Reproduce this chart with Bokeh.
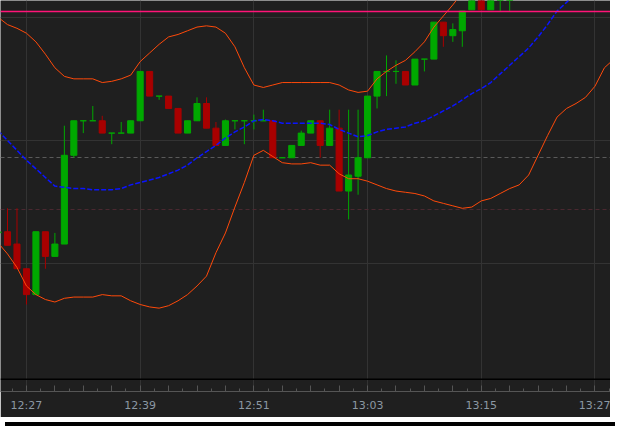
from bokeh.plotting import figure
from bokeh.models import (Range1d, FixedTicker, SingleIntervalTicker, Grid, Span,
                          CustomJSTickFormatter, Div, ColumnDataSource)
from bokeh.layouts import column
from bokeh.embed import file_html
from bokeh.resources import INLINE


def to_min(s):
    h, m = s.split(":")
    return int(h) * 60 + int(m)


def times_from(start, n):
    t0 = to_min(start)
    return ["%02d:%02d" % divmod(t0 + i, 60) for i in range(n)]


# ---------------- data (1-minute candles, EUR/USD-like quotes) ----------------
candle_times = times_from("12:24", 55)
opens = [1.30525, 1.30526, 1.30516, 1.30496, 1.30475, 1.30526, 1.30506, 1.30516, 1.30588, 1.30616,
         1.30616, 1.30616, 1.30606, 1.30606, 1.30606, 1.30616, 1.30656, 1.30636, 1.30636, 1.30626,
         1.30606, 1.30616, 1.30630, 1.30610, 1.30596, 1.30616, 1.30616, 1.30616, 1.30616, 1.30616,
         1.30586, 1.30586, 1.30596, 1.30606, 1.30616, 1.30596, 1.30610, 1.30559, 1.30571, 1.30586,
         1.30636, 1.30656, 1.30656, 1.30656, 1.30645, 1.30666, 1.30666, 1.30696, 1.30685, 1.30689,
         1.30706, 1.30728, 1.30706, 1.30722, 1.30724]
highs = [1.30526, 1.30545, 1.30545, 1.30496, 1.30526, 1.30526, 1.30525, 1.30612, 1.30616, 1.30616,
         1.30628, 1.30620, 1.30606, 1.30615, 1.30616, 1.30656, 1.30656, 1.30636, 1.30636, 1.30626,
         1.30616, 1.30635, 1.30635, 1.30615, 1.30617, 1.30616, 1.30616, 1.30621, 1.30625, 1.30616,
         1.30586, 1.30596, 1.30608, 1.30616, 1.30616, 1.30625, 1.30625, 1.30625, 1.30625, 1.30636,
         1.30656, 1.30669, 1.30665, 1.30656, 1.30666, 1.30666, 1.30696, 1.30696, 1.30695, 1.30705,
         1.30735, 1.30733, 1.30728, 1.30738, 1.30745]
lows = [1.30525, 1.30515, 1.30496, 1.30467, 1.30475, 1.30496, 1.30506, 1.30516, 1.30586, 1.30606,
        1.30616, 1.30606, 1.30597, 1.30606, 1.30606, 1.30616, 1.30636, 1.30633, 1.30626, 1.30606,
        1.30606, 1.30616, 1.30610, 1.30596, 1.30596, 1.30609, 1.30597, 1.30609, 1.30616, 1.30586,
        1.30586, 1.30586, 1.30596, 1.30606, 1.30586, 1.30596, 1.30559, 1.30536, 1.30556, 1.30586,
        1.30626, 1.30636, 1.30646, 1.30645, 1.30645, 1.30656, 1.30666, 1.30676, 1.30680, 1.30676,
        1.30706, 1.30706, 1.30706, 1.30705, 1.30705]
closes = [1.30526, 1.30515, 1.30496, 1.30475, 1.30526, 1.30506, 1.30516, 1.30588, 1.30616, 1.30616,
          1.30616, 1.30606, 1.30606, 1.30606, 1.30616, 1.30656, 1.30636, 1.30636, 1.30626, 1.30606,
          1.30616, 1.30630, 1.30610, 1.30596, 1.30616, 1.30616, 1.30616, 1.30616, 1.30616, 1.30586,
          1.30586, 1.30596, 1.30606, 1.30616, 1.30596, 1.30610, 1.30559, 1.30572, 1.30586, 1.30636,
          1.30656, 1.30656, 1.30656, 1.30645, 1.30666, 1.30666, 1.30696, 1.30685, 1.30690, 1.30705,
          1.30730, 1.30706, 1.30725, 1.30735, 1.30740]

upper_band = [1.30700, 1.30694, 1.30691, 1.30687, 1.30680, 1.30670, 1.30659, 1.30652, 1.30650, 1.30650,
              1.30650, 1.30647, 1.30648, 1.30650, 1.30653, 1.30664, 1.30671, 1.30678, 1.30684, 1.30686,
              1.30689, 1.30692, 1.30693, 1.30692, 1.30687, 1.30676, 1.30659, 1.30645, 1.30643, 1.30645,
              1.30647, 1.30647, 1.30647, 1.30647, 1.30647, 1.30647, 1.30645, 1.30641, 1.30639, 1.30640,
              1.30650, 1.30656, 1.30661, 1.30665, 1.30672, 1.30680, 1.30692, 1.30701, 1.30710, 1.30720,
              1.30730]
upper_times = times_from("12:24", len(upper_band))

lower_band = [1.30517, 1.30508, 1.30497, 1.30482, 1.30475, 1.30471, 1.30469, 1.30472, 1.30473, 1.30473,
              1.30473, 1.30475, 1.30474, 1.30474, 1.30470, 1.30467, 1.30465, 1.30464, 1.30466, 1.30470,
              1.30475, 1.30482, 1.30490, 1.30509, 1.30525, 1.30546, 1.30566, 1.30588, 1.30592, 1.30587,
              1.30582, 1.30581, 1.30581, 1.30582, 1.30580, 1.30580, 1.30573, 1.30569, 1.30569, 1.30567,
              1.30564, 1.30561, 1.30559, 1.30558, 1.30557, 1.30555, 1.30551, 1.30549, 1.30547, 1.30545,
              1.30546, 1.30551, 1.30553, 1.30557, 1.30561, 1.30564, 1.30572, 1.30588, 1.30604, 1.30619,
              1.30626, 1.30630, 1.30635, 1.30644, 1.30659, 1.30666]
lower_times = times_from("12:24", len(lower_band))

moving_avg = [1.30608, 1.30600, 1.30592, 1.30584, 1.30577, 1.30570, 1.30563, 1.30562, 1.30561, 1.30561,
              1.30560, 1.30560, 1.30560, 1.30561, 1.30564, 1.30566, 1.30568, 1.30570, 1.30573, 1.30576,
              1.30580, 1.30586, 1.30591, 1.30596, 1.30602, 1.30607, 1.30611, 1.30616, 1.30617, 1.30616,
              1.30614, 1.30614, 1.30614, 1.30614, 1.30614, 1.30613, 1.30609, 1.30606, 1.30603, 1.30604,
              1.30607, 1.30609, 1.30610, 1.30611, 1.30614, 1.30616, 1.30620, 1.30624, 1.30628, 1.30633,
              1.30638, 1.30642, 1.30647, 1.30654, 1.30661, 1.30668, 1.30675, 1.30684, 1.30694, 1.30705,
              1.30712, 1.30720]
ma_times = times_from("12:24", len(moving_avg))

resistance_level = [1.30705]   # magenta line
pivot_level = [1.30586]        # grey dashed
support_level = [1.30544]      # dark red dashed

grid_prices = [1.3050, 1.3060, 1.3070]
tick_labels = ["12:27", "12:39", "12:51", "13:03", "13:15", "13:27"]

# ---------------- styling ----------------
BG = "#1f1f1f"
GRID = "#333333"
UP = "#00a800"
DOWN = "#a80000"
BAND = "#ff4a0a"
MA = "#0a14ff"

x_lo, x_hi = 744.26, 808.64
y_lo, y_hi = 1.3039641, 1.3071355

p = figure(width=610, height=417, x_range=Range1d(x_lo, x_hi), y_range=Range1d(y_lo, y_hi),
           output_backend="svg", toolbar_location=None, y_axis_location=None,
           background_fill_color=BG, border_fill_color=BG, outline_line_color=None,
           min_border_left=0, min_border_right=0, min_border_top=0, min_border_bottom=26)

# drop the default horizontal grid, then add our own at round prices
p.ygrid.grid_line_color = None
p.ygrid.visible = False
tick_mins = [to_min(t) for t in tick_labels]
p.xgrid.ticker = FixedTicker(ticks=tick_mins)
p.xgrid.grid_line_color = GRID
p.add_layout(Grid(dimension=1, ticker=FixedTicker(ticks=grid_prices), grid_line_color=GRID))

ax = p.xaxis[0]
ax.ticker = SingleIntervalTicker(interval=3, num_minor_ticks=2)
ax.formatter = CustomJSTickFormatter(args=dict(mins=tick_mins, labels=tick_labels), code="""
    const i = mins.indexOf(Math.round(tick));
    return i >= 0 ? labels[i] : "";
""")
ax.axis_line_color = "#555555"
ax.major_tick_line_color = "#555555"
ax.minor_tick_line_color = "#555555"
ax.major_tick_in = 6
ax.major_tick_out = 0
ax.minor_tick_in = 3
ax.minor_tick_out = 0
ax.major_label_standoff = 7
ax.major_label_text_font = "DejaVu Sans"
ax.major_label_text_font_size = "11px"
ax.major_label_text_color = "#8b98a3"

# dashed reference levels (behind candles)
p.hspan(y=pivot_level, line_color="#5a5a5a", line_width=1, line_dash="4 3")
p.hspan(y=support_level, line_color="#4a2830", line_width=1, line_dash="4 3")

# candles
cx = [to_min(t) for t in candle_times]
colors = [UP if c >= o else DOWN for o, c in zip(opens, closes)]
src = ColumnDataSource(dict(x=cx, o=opens, h=highs, l=lows, c=closes,
                            top=[max(o, c) for o, c in zip(opens, closes)],
                            bot=[min(o, c) for o, c in zip(opens, closes)],
                            color=colors))
p.segment(x0="x", y0="h", x1="x", y1="l", color="color", line_width=1, source=src)
p.vbar(x="x", width=0.64, top="top", bottom="bot", fill_color="color", line_color="color",
       line_width=1, source=src)

# bands and moving average
p.line([to_min(t) for t in upper_times], upper_band, line_color=BAND, line_width=1)
p.line([to_min(t) for t in lower_times], lower_band, line_color=BAND, line_width=1)
p.line([to_min(t) for t in ma_times], moving_avg, line_color=MA, line_width=1.5, line_dash="5 2")

# resistance line
p.hspan(y=resistance_level, line_color="#ff1478", line_width=1.5)

# separator between chart and time scale
p.add_layout(Span(location=y_lo + (398 - 385.5) / 398 * (y_hi - y_lo), dimension="width",
                  line_color="#000000", line_width=1.5))

strip = Div(width=610, height=4, styles={"background-color": "#000000"})
layout = column(p, strip, spacing=0)

open("out.html", "w").write(file_html(layout, INLINE))
